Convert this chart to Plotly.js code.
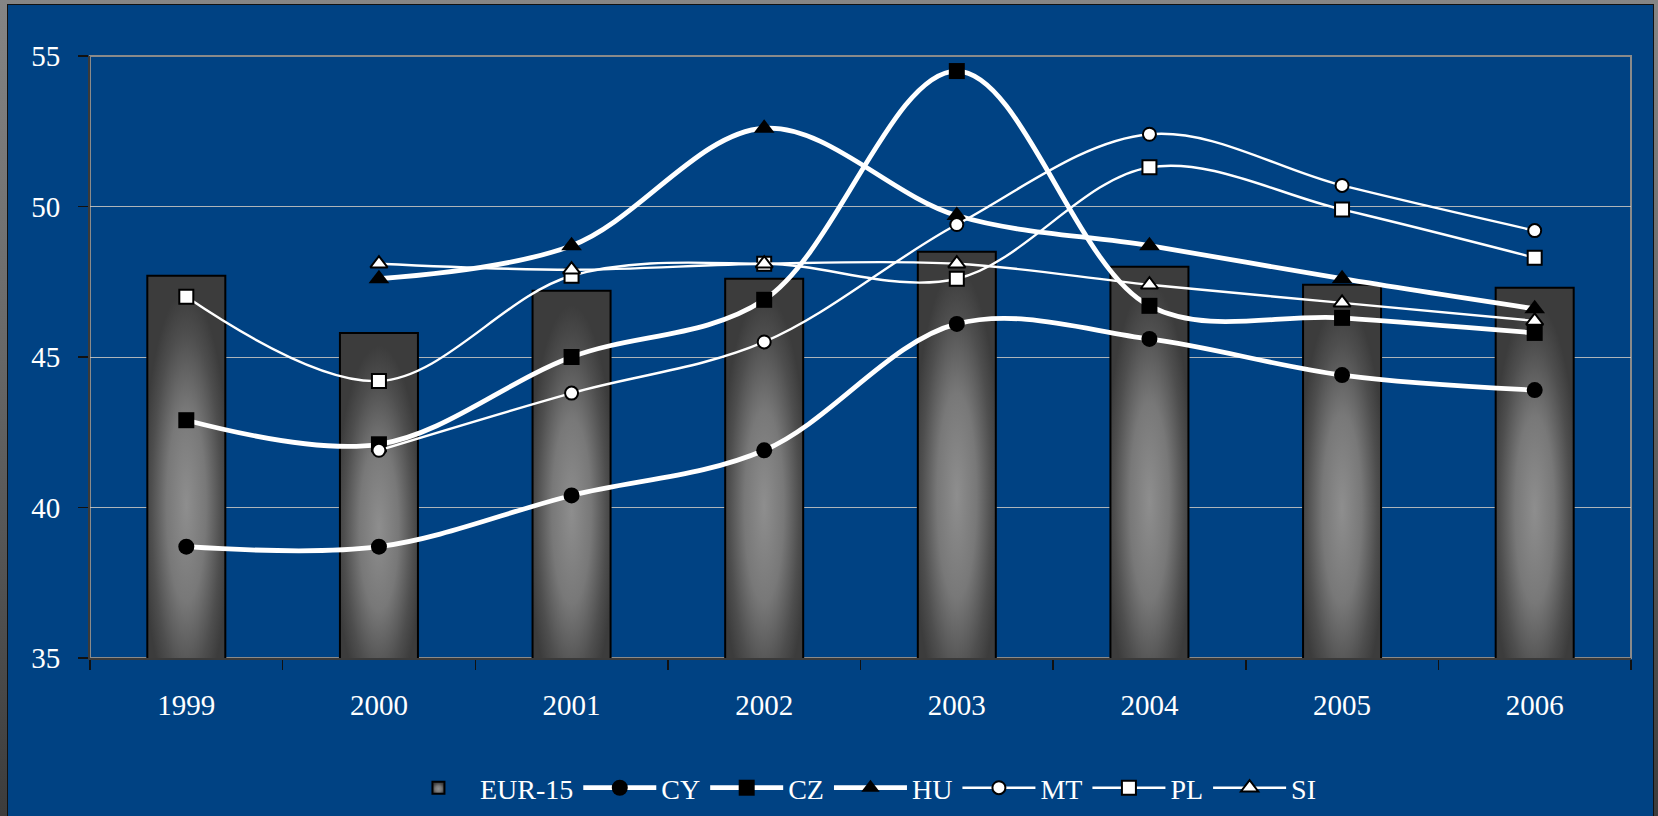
<!DOCTYPE html>
<html>
<head>
<meta charset="utf-8">
<script src="https://cdn.plot.ly/plotly-3.0.1.min.js"></script>
<style>
  html, body { margin: 0; padding: 0; width: 1658px; height: 816px; overflow: hidden;
    background: linear-gradient(#858585, #6a6a6a 40%, #3c3c3c); }
  #chart { position: absolute; left: 8px; top: 5px; width: 1645px; height: 811px;
    outline: 1px solid #111; }
</style>
</head>
<body>
<div id="chart"></div>
<script>
// Categories
const years = ['1999', '2000', '2001', '2002', '2003', '2004', '2005', '2006'];
// Series values
const EUR15 = [47.7, 45.8, 47.2, 47.6, 48.5, 48.0, 47.4, 47.3];
const CY    = [38.7, 38.7, 40.4, 41.9, 46.1, 45.6, 44.4, 43.9];
const CZ    = [42.9, 42.1, 45.0, 46.9, 54.5, 46.7, 46.3, 45.8];
const HU    = [null, 47.6, 48.7, 52.6, 49.7, 48.7, 47.6, 46.6];
const MT    = [null, 41.9, 43.8, 45.5, 49.4, 52.4, 50.7, 49.2];
const PL    = [47.0, 44.2, 47.7, 48.1, 47.6, 51.3, 49.9, 48.3];
const SI    = [null, 48.1, 47.9, 48.1, 48.1, 47.4, 46.8, 46.2];
// Tick labels
const yTicks = [35, 40, 45, 50, 55];
const yTickText = ['35', '40', '45', '50', '55'];

const BLUE = 'rgb(0,66,131)';
const FONT = 'Liberation Serif, Times New Roman, serif';

function thick(name, y, symbol, size) {
  return {
    type: 'scatter', mode: 'lines+markers', name: name, x: years, y: y,
    line: { color: '#ffffff', width: 4.8, shape: 'spline', smoothing: 1 },
    marker: { symbol: symbol, size: size, color: '#000000', line: { color: '#000000', width: 0 } },
    connectgaps: false, hoverinfo: 'x+y+name'
  };
}
function thin(name, y, symbol, size) {
  return {
    type: 'scatter', mode: 'lines+markers', name: name, x: years, y: y,
    line: { color: '#ffffff', width: 2.4, shape: 'spline', smoothing: 1 },
    marker: { symbol: symbol, size: size, color: '#ffffff', line: { color: '#000000', width: 2 } },
    connectgaps: false, hoverinfo: 'x+y+name'
  };
}

const traces = [
  {
    type: 'bar', name: 'EUR-15', x: years, y: EUR15,
    marker: { color: '#575757', line: { color: '#000000', width: 2 } },
    hoverinfo: 'x+y+name'
  },
  thick('CY', CY, 'circle', 16),
  thick('CZ', CZ, 'square', 16),
  thick('HU', HU, 'triangle-up', 18),
  thin('MT', MT, 'circle', 13),
  thin('PL', PL, 'square', 14),
  thin('SI', SI, 'triangle-up', 15)
];

const layout = {
  width: 1645, height: 811,
  paper_bgcolor: BLUE, plot_bgcolor: BLUE,
  margin: { l: 82, r: 22, t: 51, b: 158, pad: 0 },
  font: { family: FONT, size: 28, color: '#ffffff' },
  bargap: 0.595,
  showlegend: true,
  legend: {
    orientation: 'h', xref: 'container', yref: 'container',
    x: 0.5176, xanchor: 'center', y: 0.0345, yanchor: 'middle',
    font: { family: FONT, size: 28, color: '#ffffff' },
    bgcolor: 'rgba(0,0,0,0)', itemwidth: 73, traceorder: 'normal'
  },
  xaxis: {
    type: 'category', tickson: 'boundaries',
    ticks: 'outside', ticklen: 10, tickwidth: 1.5, tickcolor: '#111111',
    showline: true, linecolor: '#3a3a3a', linewidth: 2,
    showgrid: false, zeroline: false,
    ticklabelstandoff: 20,
    tickfont: { family: FONT, size: 29, color: '#ffffff' }
  },
  yaxis: {
    range: [35, 55], tickvals: yTicks, ticktext: yTickText,
    ticks: 'outside', ticklen: 10, tickwidth: 1.5, tickcolor: '#111111',
    showline: true, linecolor: '#3a3a3a', linewidth: 2,
    showgrid: true, gridcolor: 'rgba(205,200,195,0.85)', gridwidth: 1,
    zeroline: false, ticklabelstandoff: 12,
    tickfont: { family: FONT, size: 29, color: '#ffffff' }
  },
  shapes: [
    { type: 'rect', xref: 'paper', yref: 'paper', x0: 0, x1: 1, y0: 0, y1: 1,
      line: { color: '#8a8a8a', width: 2 }, layer: 'below' }
  ]
};

// Gives the bars (and their legend swatch) the shaded grey look of the original
const SHADE_STOPS = [['0', '#8e8e8e'], ['0.45', '#787878'], ['0.8', '#4e4e4e'], ['1', '#3c3c3c']];
function makeShade(defs, id, yScale) {
  const svgNS = 'http://www.w3.org/2000/svg';
  const g = document.createElementNS(svgNS, 'radialGradient');
  g.setAttribute('id', id);
  g.setAttribute('cx', '0.5'); g.setAttribute('cy', '0.6');
  g.setAttribute('r', '0.56');
  if (yScale !== 1) g.setAttribute('gradientTransform', 'scale(1,' + yScale + ')');
  SHADE_STOPS.forEach(s => {
    const st = document.createElementNS(svgNS, 'stop');
    st.setAttribute('offset', s[0]); st.setAttribute('stop-color', s[1]);
    g.appendChild(st);
  });
  defs.appendChild(g);
}
function shadeBars(gd) {
  const svgNS = 'http://www.w3.org/2000/svg';
  const svg = gd.querySelector('svg.main-svg');
  let defs = svg.querySelector('defs');
  if (!defs) { defs = document.createElementNS(svgNS, 'defs'); svg.insertBefore(defs, svg.firstChild); }
  const plotH = gd._fullLayout._size.h;
  gd.querySelectorAll('.barlayer .point path').forEach((p, i) => {
    const bb = p.getBBox();
    const visible = Math.max(1, Math.min(bb.y + bb.height, plotH) - bb.y);
    const f = Math.min(1, visible / bb.height);
    const id = 'barShade' + i;
    makeShade(defs, id, f);
    p.style.fill = 'url(#' + id + ')';
  });
  makeShade(defs, 'barShadeLegend', 1);
  const legTraces = gd.querySelectorAll('.legend .traces');
  if (legTraces.length) {
    legTraces[0].querySelectorAll('.legendpoints path').forEach(p => { p.style.fill = 'url(#barShadeLegend)'; });
  }
}

Plotly.newPlot('chart', traces, layout, { displayModeBar: false, staticPlot: true })
  .then(shadeBars);
</script>
</body>
</html>
